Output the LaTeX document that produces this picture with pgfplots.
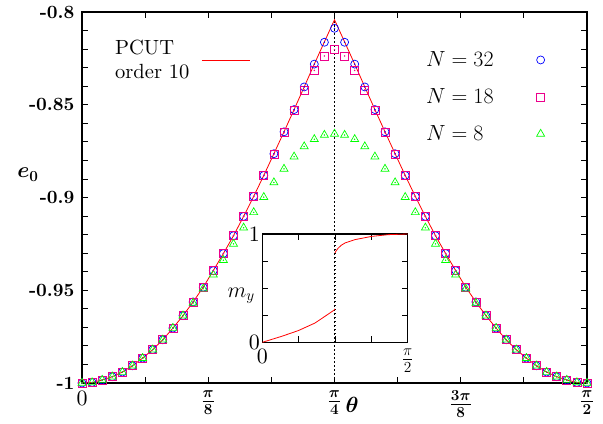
\RequirePackage{fix-cm}
\documentclass[border=0pt]{standalone}
\usepackage{fontspec}
\setmainfont{lmroman10-regular.otf}[BoldFont=lmroman10-bold.otf,
  ItalicFont=lmroman10-italic.otf, BoldItalicFont=lmroman10-bolditalic.otf]
\usepackage{pgfplots}
\pgfplotsset{compat=1.18}

% theta in units of pi/100 (0..50), e0 values
\pgfplotstableread{
i  n32     n18     n8      pcut
0  -1.0000 -1.0000 -1.0000 -1.0000
1  -0.9997 -0.9997 -0.9997 -0.9997
2  -0.9984 -0.9984 -0.9984 -0.9984
3  -0.9966 -0.9966 -0.9966 -0.9966
4  -0.9941 -0.9941 -0.9941 -0.9941
5  -0.9907 -0.9907 -0.9907 -0.9907
6  -0.9866 -0.9866 -0.9866 -0.9866
7  -0.9820 -0.9820 -0.9820 -0.9820
8  -0.9767 -0.9767 -0.9767 -0.9767
9  -0.9704 -0.9704 -0.9704 -0.9704
10 -0.9637 -0.9637 -0.9637 -0.9637
11 -0.9563 -0.9563 -0.9569 -0.9563
12 -0.9484 -0.9484 -0.9492 -0.9484
13 -0.9394 -0.9394 -0.9416 -0.9394
14 -0.9302 -0.9302 -0.9338 -0.9302
15 -0.9206 -0.9206 -0.9250 -0.9206
16 -0.9102 -0.9102 -0.9163 -0.9102
17 -0.8994 -0.8995 -0.9080 -0.8994
18 -0.8881 -0.8883 -0.8998 -0.8881
19 -0.8764 -0.8767 -0.8919 -0.8764
20 -0.8646 -0.8651 -0.8846 -0.8646
21 -0.8526 -0.8532 -0.8780 -0.8526
22 -0.8404 -0.8420 -0.8725 -0.8404
23 -0.8281 -0.8315 -0.8686 -0.8281
24 -0.8163 -0.8237 -0.8663 -0.8161
25 -0.8088 -0.8203 -0.8657 -0.8042
26 -0.8163 -0.8237 -0.8663 -0.8161
27 -0.8281 -0.8315 -0.8686 -0.8281
28 -0.8404 -0.8420 -0.8725 -0.8404
29 -0.8526 -0.8532 -0.8780 -0.8526
30 -0.8646 -0.8651 -0.8846 -0.8646
31 -0.8764 -0.8767 -0.8919 -0.8764
32 -0.8881 -0.8883 -0.8998 -0.8881
33 -0.8994 -0.8995 -0.9080 -0.8994
34 -0.9102 -0.9102 -0.9163 -0.9102
35 -0.9206 -0.9206 -0.9250 -0.9206
36 -0.9302 -0.9302 -0.9338 -0.9302
37 -0.9394 -0.9394 -0.9416 -0.9394
38 -0.9484 -0.9484 -0.9492 -0.9484
39 -0.9563 -0.9563 -0.9569 -0.9563
40 -0.9637 -0.9637 -0.9637 -0.9637
41 -0.9704 -0.9704 -0.9704 -0.9704
42 -0.9767 -0.9767 -0.9767 -0.9767
43 -0.9820 -0.9820 -0.9820 -0.9820
44 -0.9866 -0.9866 -0.9866 -0.9866
45 -0.9907 -0.9907 -0.9907 -0.9907
46 -0.9941 -0.9941 -0.9941 -0.9941
47 -0.9966 -0.9966 -0.9966 -0.9966
48 -0.9984 -0.9984 -0.9984 -0.9984
49 -0.9997 -0.9997 -0.9997 -0.9997
50 -1.0000 -1.0000 -1.0000 -1.0000
}\eodata

\pgfplotsset{
  frame/.style={
    scale only axis,
    anchor=south west,
    axis line style={line width=1.2bp},
    tick style={black, line width=0.8bp},
    major tick length=6bp, minor tick length=6bp,
    tick align=inside,
  },
}

\begin{document}
\begin{tikzpicture}
\useasboundingbox (0,0) rectangle (603bp,424bp);

%% main panel
\begin{axis}[
  frame, at={(82bp,41bp)}, width=505bp, height=371bp,
  xmin=0, xmax=50, ymin=-1, ymax=-0.8,
  xtick={0,12.5,25,37.5,50}, minor x tick num=1,
  xticklabels={0,$\frac{\pi}{8}$,$\frac{\pi}{4}$,$\frac{3\pi}{8}$,$\frac{\pi}{2}$},
  ytick={-1,-0.95,-0.9,-0.85,-0.8}, minor y tick num=4,
  yticklabels={-1,-0.95,-0.9,-0.85,-0.8},
  x tick label style={font=\fontsize{22}{24}\selectfont\boldmath, yshift=-4bp},
  y tick label style={font=\fontsize{18.8}{20}\selectfont\bfseries, xshift=-4bp},
  xlabel={$\theta$},
  xlabel style={at={(axis description cs:0.535,-0.059)}, anchor=center,
                font=\fontsize{22}{24}\selectfont\boldmath},
  ylabel={$e_0$},
  ylabel style={at={(axis description cs:-0.107,0.562)}, anchor=center, rotate=-90,
                font=\fontsize{22}{24}\selectfont\boldmath},
  legend style={draw=none, fill=none, inner sep=0pt, nodes={inner sep=0pt},
                at={(axis description cs:0.681,0.8935)}, anchor=north west,
                font=\fontsize{22}{24}\selectfont, row sep=20.5bp,
                /tikz/every odd column/.append style={column sep=43bp}},
  legend cell align=left, legend plot pos=right,
  legend image code/.code={\draw plot coordinates {(0bp,0bp)};},
]
\addplot[black, line width=1.5bp, dash pattern=on 1.5bp off 2.5bp, forget plot]
  coordinates {(25,-1) (25,-0.8)};
\addplot[only marks, mark=o, blue, mark size=4bp, line width=0.7bp]
  table[x=i, y=n32] {\eodata};
\addlegendentry{$N=32$}
\addplot[only marks, mark=square, magenta, mark size=4bp, line width=0.7bp]
  table[x=i, y=n18] {\eodata};
\addlegendentry{$N=18$}
\addplot[only marks, mark=triangle, green, mark size=4.6bp, line width=0.7bp]
  table[x=i, y=n8] {\eodata};
\addlegendentry{$N=8$}
\addplot[only marks, mark=*, blue, mark size=0.5bp, forget plot] table[x=i, y=n32] {\eodata};
\addplot[only marks, mark=*, magenta, mark size=0.5bp, forget plot] table[x=i, y=n18] {\eodata};
\addplot[only marks, mark=*, green, mark size=0.5bp, forget plot] table[x=i, y=n8] {\eodata};
\addplot[red, line width=0.8bp, forget plot] table[x=i, y=pcut] {\eodata};
\end{axis}

%% legend entry for the PCUT line, upper left
\begin{axis}[
  frame, at={(82bp,41bp)}, width=505bp, height=371bp,
  xmin=0, xmax=50, ymin=-1, ymax=-0.8, hide axis,
  legend style={draw=none, fill=none, inner sep=0pt, nodes={inner sep=0pt},
                at={(axis description cs:0.0653,0.9256)}, anchor=north west,
                font=\fontsize{20.6}{24.7}\selectfont,
                /tikz/every odd column/.append style={column sep=12bp}},
  legend cell align=left, legend plot pos=right,
]
\addlegendimage{red, line width=0.8bp,
  legend image code/.code={\draw[red, line width=0.8bp] (0bp,0bp) -- (48bp,0bp);}}
\addlegendentry{\vbox{\hbox{PCUT}\hbox{order 10}}}
\end{axis}

%% inset: m_y
\begin{axis}[
  frame, at={(262.3bp,81.7bp)}, width=145.4bp, height=108.3bp,
  xmin=0, xmax=50, ymin=0, ymax=1,
  xtick={0,12.5,25,37.5,50}, xticklabels={0,,,,$\frac{\pi}{2}$},
  ytick={0,0.25,0.5,0.75,1}, yticklabels={0,,,,1},
  tick label style={font=\fontsize{22}{24}\selectfont},
  x tick label style={yshift=-3.5bp},
  y tick label style={xshift=1bp},
  ylabel={$m_y$},
  ylabel style={at={(axis description cs:-0.146,0.43)}, anchor=center, rotate=-90,
                font=\fontsize{22}{24}\selectfont},
]
\addplot[black, line width=1.5bp, dash pattern=on 1.5bp off 2.5bp]
  coordinates {(25,0) (25,1)};
\addplot[red, line width=0.8bp] coordinates {
  (0,0) (6.65,0.055) (12.39,0.108) (18.12,0.178) (21.56,0.240)
  (24.08,0.286) (24.6,0.295) (25,0.308)
};
\addplot[red, line width=0.8bp] coordinates {
  (25,0.825) (25.4,0.845) (26.15,0.871) (27.2,0.897) (28.44,0.917)
  (31.88,0.948) (37.61,0.978) (43.35,0.994) (50,1.0)
};
\end{axis}
\end{tikzpicture}
\end{document}
